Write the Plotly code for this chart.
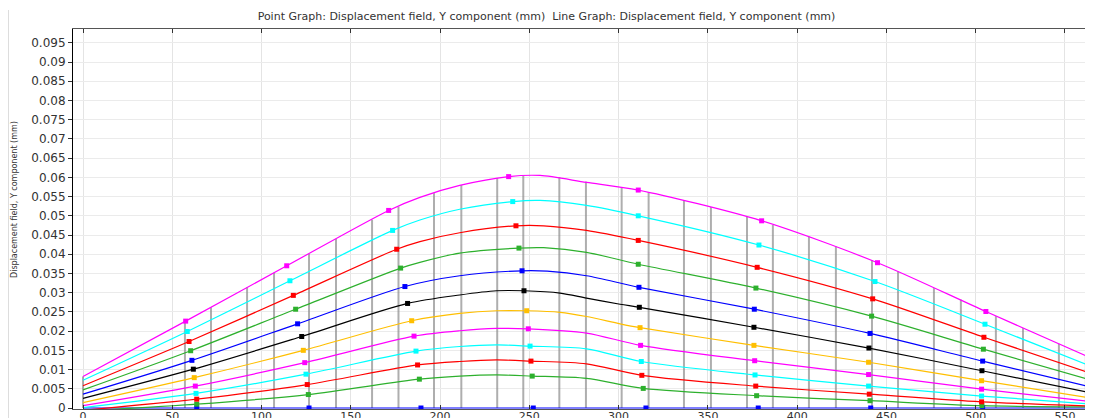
import plotly.graph_objects as go

# ---------------- data ----------------
title_text = ("Point Graph: Displacement field, Y component (mm)  "
              "Line Graph: Displacement field, Y component (mm)")
y_title = "Displacement field, Y component (mm)"

x_tick_values = [0, 50, 100, 150, 200, 250, 300, 350, 400, 450, 500, 550]
x_tick_labels = ["0", "50", "100", "150", "200", "250", "300", "350", "400", "450", "500", "550"]
y_tick_values = [0, 0.005, 0.01, 0.015, 0.02, 0.025, 0.03, 0.035, 0.04, 0.045, 0.05,
                 0.055, 0.06, 0.065, 0.07, 0.075, 0.08, 0.085, 0.09, 0.095]
y_tick_labels = ["0", "0.005", "0.01", "0.015", "0.02", "0.025", "0.03", "0.035", "0.04",
                 "0.045", "0.05", "0.055", "0.06", "0.065", "0.07", "0.075", "0.08",
                 "0.085", "0.09", "0.095"]

# gray vertical members (x position, top value)
member_x = [0, 57.1, 71.7, 91.9, 107.0, 126.6, 141.7, 161.9, 176.7, 196.6, 211.9, 232.0,
            246.6, 266.8, 281.7, 301.7, 316.8, 336.6, 351.7, 371.9, 386.4, 406.6, 421.7,
            441.9, 456.5, 476.6, 491.7, 511.3, 526.5, 546.6, 561.7]
member_top = [0.0082, 0.0225, 0.0262, 0.0314, 0.0352, 0.0401, 0.0440, 0.0490, 0.0524,
              0.0559, 0.0580, 0.0598, 0.0604, 0.0601, 0.0589, 0.0575, 0.0561, 0.0541,
              0.0523, 0.0497, 0.0476, 0.0446, 0.0420, 0.0385, 0.0355, 0.0312, 0.0282,
              0.0239, 0.0208, 0.0167, 0.0135]

curve_colors = ["#0000FF", "#2DB02D", "#FF0000", "#00FFFF", "#FF00FF", "#FFBF00",
                "#000000", "#0000FF", "#2DB02D", "#FF0000", "#00FFFF", "#FF00FF"]

# line graph data per curve
c00_x = [0, 566]
c00_y = [0, 0]
c01_x = [0, 63.7, 126.2, 188.4, 211, 231.7, 251.6, 282, 313.8, 377.3, 440.8, 503.5, 566]
c01_y = [-0.0008, 0.0010, 0.0035, 0.0075, 0.0083, 0.0086, 0.0083, 0.0077, 0.0051, 0.0032, 0.0019, 0.0006, 0.0003]
c02_x = [0, 63.7, 125.6, 187.4, 211, 231.7, 250.9, 282, 313, 376.8, 440.4, 503.3, 566]
c02_y = [-0.0006, 0.0023, 0.0061, 0.0112, 0.0121, 0.0125, 0.0122, 0.0115, 0.0085, 0.0057, 0.0036, 0.0016, 0.0005]
c03_x = [0, 63.3, 124.9, 186.5, 211, 231.7, 250.4, 282, 312.7, 376.4, 440, 503.3, 566]
c03_y = [0.0001, 0.0038, 0.0088, 0.0148, 0.0160, 0.0164, 0.0161, 0.0154, 0.0121, 0.0086, 0.0057, 0.0031, 0.0010]
c04_x = [0, 62.9, 124.2, 185.4, 211, 231.7, 249.4, 282, 312.3, 376.2, 440, 503.3, 566]
c04_y = [0.0006, 0.0057, 0.0118, 0.0187, 0.0201, 0.0207, 0.0206, 0.0195, 0.0163, 0.0123, 0.0087, 0.0049, 0.0016]
c05_x = [0, 62.3, 123.4, 184.1, 211, 231.7, 248.5, 267.2, 282, 300.8, 312, 375.8, 440, 503.3, 566]
c05_y = [0.0014, 0.0079, 0.0150, 0.0227, 0.0246, 0.0253, 0.0253, 0.0249, 0.0238, 0.0219, 0.0209, 0.0163, 0.0119, 0.0071, 0.0025]
c06_x = [0, 61.8, 122.5, 181.8, 211, 231.7, 247, 267.2, 282, 300.8, 311.6, 375.8, 440.2, 503.5, 566]
c06_y = [0.0025, 0.0101, 0.0186, 0.0272, 0.0294, 0.0305, 0.0305, 0.0299, 0.0286, 0.0270, 0.0262, 0.0210, 0.0156, 0.0097, 0.0038]
c07_x = [0, 61, 120.2, 180.3, 211, 245.9, 260, 282, 311.4, 376, 440.8, 503.9, 566]
c07_y = [0.0036, 0.0124, 0.0219, 0.0316, 0.0344, 0.0357, 0.0356, 0.0344, 0.0314, 0.0257, 0.0194, 0.0122, 0.0053]
c08_x = [0, 60.3, 119.1, 177.9, 188.7, 211, 244.2, 258, 282, 311, 376.9, 441.7, 504.3, 566]
c08_y = [0.0047, 0.0149, 0.0257, 0.0364, 0.0379, 0.0403, 0.0416, 0.0417, 0.0405, 0.0374, 0.0312, 0.0239, 0.0153, 0.0071]
c09_x = [0, 59.4, 117.8, 175.7, 188.7, 211, 242.5, 258, 282, 311, 377.6, 442.3, 504.6, 566]
c09_y = [0.0058, 0.0173, 0.0293, 0.0413, 0.0433, 0.0456, 0.0474, 0.0474, 0.0462, 0.0436, 0.0366, 0.0284, 0.0184, 0.0088]
c10_x = [0, 58.4, 115.9, 173.4, 188.7, 211, 240.7, 256, 282, 311, 378.6, 443.6, 505.2, 566]
c10_y = [0.0072, 0.0199, 0.0331, 0.0462, 0.0489, 0.0517, 0.0537, 0.0540, 0.0527, 0.0500, 0.0424, 0.0329, 0.0218, 0.0106]
c11_x = [0, 57.5, 114.1, 171.2, 188.7, 211, 238.4, 256, 282, 311, 380.1, 445, 505.7, 566]
c11_y = [0.0082, 0.0226, 0.0370, 0.0514, 0.0548, 0.0579, 0.0602, 0.0605, 0.0587, 0.0567, 0.0487, 0.0378, 0.0251, 0.0127]

# point graph data per curve
p00_x = [63.7, 126.6, 189.3, 252.2, 315.3, 378.2, 441.2, 503.9]
p00_y = [0, 0, 0, 0, 0, 0, 0, 0]
p01_x = [63.7, 126.2, 188.4, 251.6, 313.8, 377.3, 440.8, 503.5]
p01_y = [0.0010, 0.0035, 0.0075, 0.0083, 0.0051, 0.0032, 0.0019, 0.0006]
p02_x = [63.7, 125.6, 187.4, 250.9, 313, 376.8, 440.4, 503.3]
p02_y = [0.0023, 0.0061, 0.0112, 0.0122, 0.0085, 0.0057, 0.0036, 0.0016]
p03_x = [63.3, 124.9, 186.5, 250.4, 312.7, 376.4, 440, 503.3]
p03_y = [0.0038, 0.0088, 0.0148, 0.0161, 0.0121, 0.0086, 0.0057, 0.0031]
p04_x = [62.9, 124.2, 185.4, 249.4, 312.3, 376.2, 440, 503.3]
p04_y = [0.0057, 0.0118, 0.0187, 0.0206, 0.0163, 0.0123, 0.0087, 0.0049]
p05_x = [62.3, 123.4, 184.1, 248.5, 312, 375.8, 440, 503.3]
p05_y = [0.0079, 0.0150, 0.0227, 0.0253, 0.0209, 0.0163, 0.0119, 0.0071]
p06_x = [61.8, 122.5, 181.8, 247, 311.6, 375.8, 440.2, 503.5]
p06_y = [0.0101, 0.0186, 0.0272, 0.0305, 0.0262, 0.0210, 0.0156, 0.0097]
p07_x = [61, 120.2, 180.3, 245.9, 311.4, 376, 440.8, 503.9]
p07_y = [0.0124, 0.0219, 0.0316, 0.0357, 0.0314, 0.0257, 0.0194, 0.0122]
p08_x = [60.3, 119.1, 177.9, 244.2, 311, 376.9, 441.7, 504.3]
p08_y = [0.0149, 0.0257, 0.0364, 0.0416, 0.0374, 0.0312, 0.0239, 0.0153]
p09_x = [59.4, 117.8, 175.7, 242.5, 311, 377.6, 442.3, 504.6]
p09_y = [0.0173, 0.0293, 0.0413, 0.0474, 0.0436, 0.0366, 0.0284, 0.0184]
p10_x = [58.4, 115.9, 173.4, 240.7, 311, 378.6, 443.6, 505.2]
p10_y = [0.0199, 0.0331, 0.0462, 0.0537, 0.0500, 0.0424, 0.0329, 0.0218]
p11_x = [57.5, 114.1, 171.2, 238.4, 311, 380.1, 445, 505.7]
p11_y = [0.0226, 0.0370, 0.0514, 0.0602, 0.0567, 0.0487, 0.0378, 0.0251]

lines = [(c00_x, c00_y), (c01_x, c01_y), (c02_x, c02_y), (c03_x, c03_y), (c04_x, c04_y),
         (c05_x, c05_y), (c06_x, c06_y), (c07_x, c07_y), (c08_x, c08_y), (c09_x, c09_y),
         (c10_x, c10_y), (c11_x, c11_y)]
points = [(p00_x, p00_y), (p01_x, p01_y), (p02_x, p02_y), (p03_x, p03_y), (p04_x, p04_y),
          (p05_x, p05_y), (p06_x, p06_y), (p07_x, p07_y), (p08_x, p08_y), (p09_x, p09_y),
          (p10_x, p10_y), (p11_x, p11_y)]

# ---------------- figure ----------------
# the page body has an 8px margin, so the figure is laid out 8px up/left of the window
OFF = 8
W, H = 1093 - OFF, 418 - OFF
ML, MR, MT, MB = 73 - OFF, 0, 29 - OFF, 9
PW, PH = W - ML - MR, H - MT - MB

fig = go.Figure()

mx, my = [], []
for xv, top in zip(member_x, member_top):
    mx += [xv, xv, None]
    my += [0, top, None]
fig.add_trace(go.Scatter(x=mx, y=my, mode="lines",
                         line=dict(color="rgba(140,140,140,0.7)", width=2),
                         hoverinfo="skip", showlegend=False))

for (lx, ly), col in zip(lines, curve_colors):
    fig.add_trace(go.Scatter(x=lx, y=ly, mode="lines",
                             line=dict(color=col, width=1.2, shape="spline", smoothing=0.8),
                             showlegend=False))

for (px, py), col in zip(points, curve_colors):
    fig.add_trace(go.Scatter(x=px, y=py, mode="markers",
                             marker=dict(color=col, size=5, symbol="square", line=dict(width=0)),
                             showlegend=False))

font_family = "DejaVu Sans"
fig.update_layout(
    width=W, height=H,
    margin=dict(l=ML, r=MR, t=MT, b=MB, pad=0, autoexpand=False),
    paper_bgcolor="white", plot_bgcolor="white",
    title=dict(text=title_text, x=(546.5 - OFF) / W, xref="container", xanchor="center",
               y=1 - (16 - OFF) / H, yref="container", yanchor="middle",
               font=dict(family=font_family, size=11, color="#333333")),
    showlegend=False,
    xaxis=dict(range=[-5.6, 565.7], tickmode="array", tickvals=x_tick_values,
               ticktext=x_tick_labels, showgrid=True, gridcolor="#E4E4E4", gridwidth=1,
               zeroline=False, showline=True, linecolor="#555555", linewidth=1,
               mirror="ticks", ticks="inside", ticklen=4, tickcolor="#333333",
               automargin=False, ticklabelstandoff=-3,
               tickfont=dict(family=font_family, size=11, color="#333333")),
    yaxis=dict(range=[-0.00026, 0.0986], tickmode="array", tickvals=y_tick_values,
               ticktext=y_tick_labels, showgrid=True, gridcolor="#EBEBEB", gridwidth=1,
               zeroline=False, showline=True, linecolor="#000000", linewidth=1,
               ticks="outside", ticklen=4, tickcolor="#333333", automargin=False,
               tickfont=dict(family=font_family, size=12, color="#333333")),
    annotations=[
        dict(text=y_title, xref="paper", yref="paper", x=(15 - OFF - ML) / PW, y=0.55,
             xanchor="center", yanchor="middle", textangle=-90, showarrow=False,
             font=dict(family=font_family, size=8, color="#333333")),
    ],
    shapes=[
        dict(type="line", xref="paper", yref="paper", x0=(0.5 - ML) / PW, x1=(0.5 - ML) / PW,
             y0=(H - MB - 2) / PH, y1=-0.03, line=dict(color="#DDDDDD", width=1)),
        dict(type="circle", xref="paper", yref="paper",
             x0=(1089 - OFF - ML) / PW, x1=(1097 - OFF - ML) / PW,
             y0=(H - MB - (21 - OFF)) / PH, y1=(H - MB - (13 - OFF)) / PH,
             fillcolor="#3A5FC8", line=dict(width=0)),
    ],
)

fig.write_html("out.html")
